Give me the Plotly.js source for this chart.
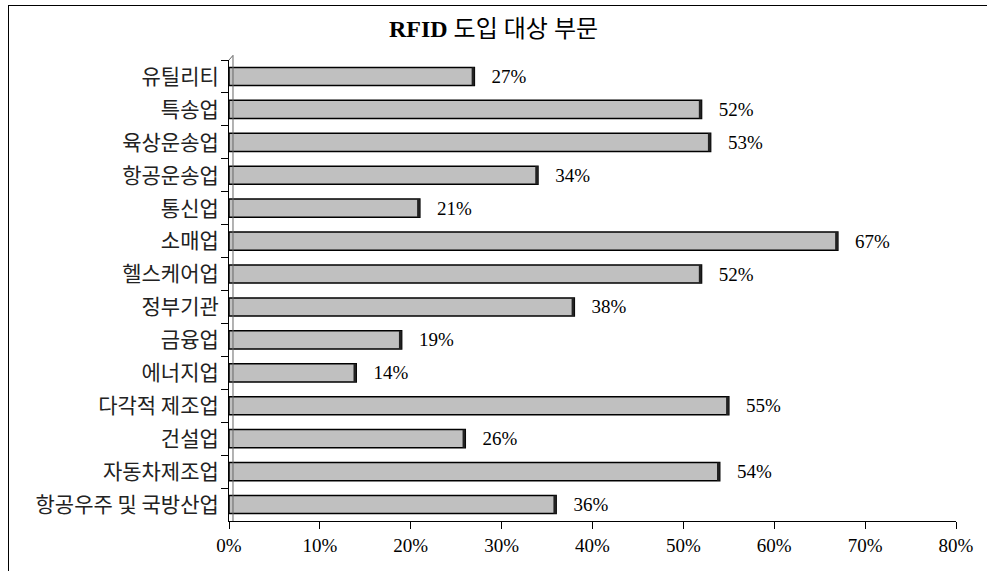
<!DOCTYPE html>
<html><head><meta charset="utf-8">
<script src="https://cdn.plot.ly/plotly-3.0.1.min.js"></script>
<style>
body{margin:0;padding:0;background:#fff;}
#wrap{position:relative;width:987px;height:571px;overflow:hidden;}
#frame{position:absolute;left:8px;top:5px;width:1100px;height:700px;border:1px solid #000;pointer-events:none;}
#chart{position:absolute;left:0;top:0;width:987px;height:571px;}
</style>
</head><body>
<div id="wrap"><div id="chart"></div><div id="frame"></div></div>
<script>
const categories = ["유틸리티","특송업","육상운송업","항공운송업","통신업","소매업","헬스케어업","정부기관","금융업","에너지업","다각적 제조업","건설업","자동차제조업","항공우주 및 국방산업"];
const values = [27,52,53,34,21,67,52,38,19,14,55,26,54,36];
const tickVals = [0,10,20,30,40,50,60,70,80];
const tickText = ["0%","10%","20%","30%","40%","50%","60%","70%","80%"];

const fam = "Liberation Serif, Noto Sans CJK KR, serif";
const kfam = "Noto Sans CJK KR, sans-serif";
const trace = {
  type:'bar', orientation:'h',
  y: categories, x: values,
  width: 0.55,
  marker:{color:'#c0c0c0', line:{color:'#000', width:1.5}},
  text: values.map(v=>'\u00a0\u00a0\u00a0'+v+'%'),
  textposition:'outside',
  constraintext:'none',
  cliponaxis:false,
  textfont:{family:fam, size:19, color:'#000'},
  hoverinfo:'none'
};
// dark right-edge depth, derived from the data values
const depth = {
  type:'bar', orientation:'h',
  y: categories, x: values.map(()=>0.3), base: values.map(v=>v-0.3),
  width: 0.55,
  marker:{color:'#222', line:{width:0}},
  hoverinfo:'none', showlegend:false
};
const layout = {
  width:987, height:571,
  margin:{l:229, r:31, t:60, b:50},
  paper_bgcolor:'#fff', plot_bgcolor:'#fff',
  showlegend:false,
  barmode:'overlay',
  title:{text:'<b>RFID</b> 도입 대상 부문', x:0.5, xref:'container', y:0.965, yref:'container',
    font:{family:"Liberation Serif, Noto Sans CJK KR, serif", size:24, color:'#000'}},
  xaxis:{range:[0,80], tickvals:tickVals, ticktext:tickText, showgrid:false, zeroline:false,
    showline:true, linecolor:'#000', linewidth:1, ticks:'outside', ticklen:7, tickcolor:'#000',
    tickfont:{family:fam, size:19, color:'#000'}, fixedrange:true},
  yaxis:{autorange:'reversed', showgrid:false, zeroline:false, showline:true, linecolor:'#000', linewidth:1,
    ticks:'outside', ticklen:7, tickcolor:'#000', tickson:'boundaries',
    tickfont:{family:kfam, size:21, color:'#222'}, ticklabelstandoff:5, fixedrange:true},
  shapes:[
    {type:'line', xref:'paper', yref:'paper', x0:0.0055, x1:0.0055, y0:0, y1:1.01, line:{color:'#666', width:1}},
    {type:'line', xref:'paper', yref:'paper', x0:0, x1:0.0055, y0:1, y1:1.01, line:{color:'#666', width:1}}
  ]
};
Plotly.newPlot('chart',[trace, depth],layout,{staticPlot:true});
</script>
</body></html>
